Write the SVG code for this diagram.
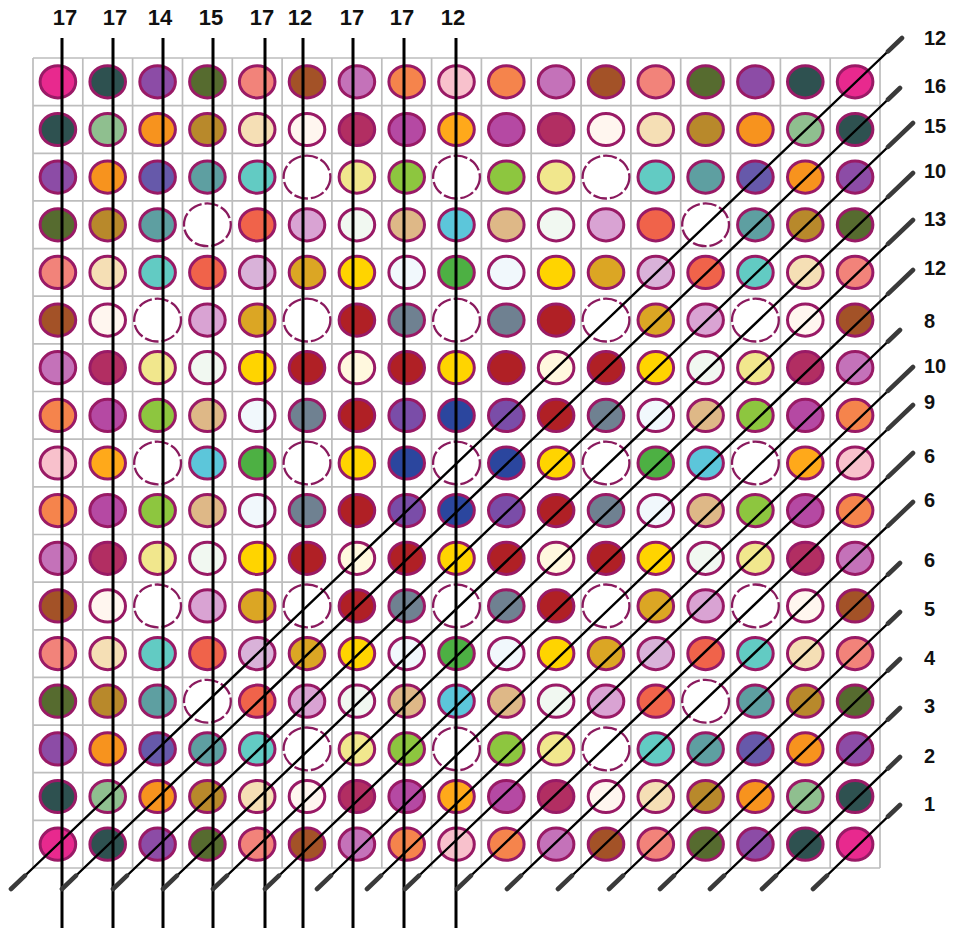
<svg xmlns="http://www.w3.org/2000/svg" xmlns:xlink="http://www.w3.org/1999/xlink" width="955" height="928" viewBox="0 0 955 928">
<style>
.grid{fill:none;stroke:#BDBDBD;stroke-width:1.7}
.r use{stroke:#991A66;stroke-width:3}
.r use.W{fill:#fff;stroke:#8A1A5E;stroke-width:2.3;stroke-dasharray:14 3}
.pk{fill:#E8298E}.ds{fill:#2E5150}.pu{fill:#8C4CA6}.ol{fill:#566B2F}.sa{fill:#F2837A}.si{fill:#A35227}
.or{fill:#C472B9}.co{fill:#F5844C}.lp{fill:#F8C1CC}.lg{fill:#8FBF8F}.og{fill:#F7931E}.dg{fill:#B8892B}
.wh{fill:#F5DFB5}.ss{fill:#FFF6EF}.cr{fill:#B22E62}.mg{fill:#B549A3}.o2{fill:#FFA91A}.sb{fill:#6659AA}
.cb{fill:#5E9FA1}.tq{fill:#62CBC3}.kh{fill:#F1E78D}.yg{fill:#8DC63F}.tm{fill:#F0634A}.pl{fill:#D9A3D3}
.hd{fill:#F1F8F1}.bw{fill:#DEB887}.sk{fill:#5CC6DA}.th{fill:#D9B2D9}.gr{fill:#DBA624}.gd{fill:#FFD400}
.ab{fill:#F1F8FC}.gn{fill:#4DB043}.fb{fill:#B02025}.sg{fill:#6F8191}.cs{fill:#FFF8DE}.rp{fill:#7A4DA8}.db{fill:#2B469E}
.ln{stroke:#000;stroke-width:2.4;fill:none}
.vl{stroke:#000;stroke-width:3;fill:none}
.cap{stroke:#3A3A3A;stroke-width:4.6;stroke-linecap:round;fill:none}
.lbl{font-family:"Liberation Sans",Arial,sans-serif;font-weight:bold;fill:#111}
.top{font-size:22px;text-anchor:middle}
.rt{font-size:20px}
</style>
<defs>
<ellipse id="d" rx="17.8" ry="16.1"/>
<ellipse id="w" rx="23.4" ry="21.4"/>
</defs>
<rect width="955" height="928" fill="#fff"/>
<g id="grid">
<path class="grid" d="M33 58V868M82.8 58V868M132.6 58V868M182.5 58V868M232.3 58V868M282.1 58V868M331.9 58V868M381.8 58V868M431.6 58V868M481.4 58V868M531.2 58V868M581.1 58V868M630.9 58V868M680.7 58V868M730.5 58V868M780.4 58V868M830.2 58V868M880 58V868M33 58H880M33 105.6H880M33 153.3H880M33 200.9H880M33 248.6H880M33 296.2H880M33 343.9H880M33 391.5H880M33 439.2H880M33 486.8H880M33 534.5H880M33 582.1H880M33 629.8H880M33 677.4H880M33 725.1H880M33 772.7H880M33 820.4H880M33 868H880"/>
</g>
<g id="cells" class="r">
<g id="row0" transform="translate(0,81.8)"><use href="#d" x="57.9" class="pk"/><use href="#d" x="107.7" class="ds"/><use href="#d" x="157.6" class="pu"/><use href="#d" x="207.4" class="ol"/><use href="#d" x="257.2" class="sa"/><use href="#d" x="307" class="si"/><use href="#d" x="356.9" class="or"/><use href="#d" x="406.7" class="co"/><use href="#d" x="456.5" class="lp"/><use href="#d" x="506.3" class="co"/><use href="#d" x="556.1" class="or"/><use href="#d" x="606" class="si"/><use href="#d" x="655.8" class="sa"/><use href="#d" x="705.6" class="ol"/><use href="#d" x="755.4" class="pu"/><use href="#d" x="805.3" class="ds"/><use href="#d" x="855.1" class="pk"/></g>
<g id="row1" transform="translate(0,129.5)"><use href="#d" x="57.9" class="ds"/><use href="#d" x="107.7" class="lg"/><use href="#d" x="157.6" class="og"/><use href="#d" x="207.4" class="dg"/><use href="#d" x="257.2" class="wh"/><use href="#d" x="307" class="ss"/><use href="#d" x="356.9" class="cr"/><use href="#d" x="406.7" class="mg"/><use href="#d" x="456.5" class="o2"/><use href="#d" x="506.3" class="mg"/><use href="#d" x="556.1" class="cr"/><use href="#d" x="606" class="ss"/><use href="#d" x="655.8" class="wh"/><use href="#d" x="705.6" class="dg"/><use href="#d" x="755.4" class="og"/><use href="#d" x="805.3" class="lg"/><use href="#d" x="855.1" class="ds"/></g>
<g id="row2" transform="translate(0,177.1)"><use href="#d" x="57.9" class="pu"/><use href="#d" x="107.7" class="og"/><use href="#d" x="157.6" class="sb"/><use href="#d" x="207.4" class="cb"/><use href="#d" x="257.2" class="tq"/><use href="#w" x="307" class="W"/><use href="#d" x="356.9" class="kh"/><use href="#d" x="406.7" class="yg"/><use href="#w" x="456.5" class="W"/><use href="#d" x="506.3" class="yg"/><use href="#d" x="556.1" class="kh"/><use href="#w" x="606" class="W"/><use href="#d" x="655.8" class="tq"/><use href="#d" x="705.6" class="cb"/><use href="#d" x="755.4" class="sb"/><use href="#d" x="805.3" class="og"/><use href="#d" x="855.1" class="pu"/></g>
<g id="row3" transform="translate(0,224.8)"><use href="#d" x="57.9" class="ol"/><use href="#d" x="107.7" class="dg"/><use href="#d" x="157.6" class="cb"/><use href="#w" x="207.4" class="W"/><use href="#d" x="257.2" class="tm"/><use href="#d" x="307" class="pl"/><use href="#d" x="356.9" class="hd"/><use href="#d" x="406.7" class="bw"/><use href="#d" x="456.5" class="sk"/><use href="#d" x="506.3" class="bw"/><use href="#d" x="556.1" class="hd"/><use href="#d" x="606" class="pl"/><use href="#d" x="655.8" class="tm"/><use href="#w" x="705.6" class="W"/><use href="#d" x="755.4" class="cb"/><use href="#d" x="805.3" class="dg"/><use href="#d" x="855.1" class="ol"/></g>
<g id="row4" transform="translate(0,272.4)"><use href="#d" x="57.9" class="sa"/><use href="#d" x="107.7" class="wh"/><use href="#d" x="157.6" class="tq"/><use href="#d" x="207.4" class="tm"/><use href="#d" x="257.2" class="th"/><use href="#d" x="307" class="gr"/><use href="#d" x="356.9" class="gd"/><use href="#d" x="406.7" class="ab"/><use href="#d" x="456.5" class="gn"/><use href="#d" x="506.3" class="ab"/><use href="#d" x="556.1" class="gd"/><use href="#d" x="606" class="gr"/><use href="#d" x="655.8" class="th"/><use href="#d" x="705.6" class="tm"/><use href="#d" x="755.4" class="tq"/><use href="#d" x="805.3" class="wh"/><use href="#d" x="855.1" class="sa"/></g>
<g id="row5" transform="translate(0,320.1)"><use href="#d" x="57.9" class="si"/><use href="#d" x="107.7" class="ss"/><use href="#w" x="157.6" class="W"/><use href="#d" x="207.4" class="pl"/><use href="#d" x="257.2" class="gr"/><use href="#w" x="307" class="W"/><use href="#d" x="356.9" class="fb"/><use href="#d" x="406.7" class="sg"/><use href="#w" x="456.5" class="W"/><use href="#d" x="506.3" class="sg"/><use href="#d" x="556.1" class="fb"/><use href="#w" x="606" class="W"/><use href="#d" x="655.8" class="gr"/><use href="#d" x="705.6" class="pl"/><use href="#w" x="755.4" class="W"/><use href="#d" x="805.3" class="ss"/><use href="#d" x="855.1" class="si"/></g>
<g id="row6" transform="translate(0,367.7)"><use href="#d" x="57.9" class="or"/><use href="#d" x="107.7" class="cr"/><use href="#d" x="157.6" class="kh"/><use href="#d" x="207.4" class="hd"/><use href="#d" x="257.2" class="gd"/><use href="#d" x="307" class="fb"/><use href="#d" x="356.9" class="cs"/><use href="#d" x="406.7" class="fb"/><use href="#d" x="456.5" class="gd"/><use href="#d" x="506.3" class="fb"/><use href="#d" x="556.1" class="cs"/><use href="#d" x="606" class="fb"/><use href="#d" x="655.8" class="gd"/><use href="#d" x="705.6" class="hd"/><use href="#d" x="755.4" class="kh"/><use href="#d" x="805.3" class="cr"/><use href="#d" x="855.1" class="or"/></g>
<g id="row7" transform="translate(0,415.4)"><use href="#d" x="57.9" class="co"/><use href="#d" x="107.7" class="mg"/><use href="#d" x="157.6" class="yg"/><use href="#d" x="207.4" class="bw"/><use href="#d" x="257.2" class="ab"/><use href="#d" x="307" class="sg"/><use href="#d" x="356.9" class="fb"/><use href="#d" x="406.7" class="rp"/><use href="#d" x="456.5" class="db"/><use href="#d" x="506.3" class="rp"/><use href="#d" x="556.1" class="fb"/><use href="#d" x="606" class="sg"/><use href="#d" x="655.8" class="ab"/><use href="#d" x="705.6" class="bw"/><use href="#d" x="755.4" class="yg"/><use href="#d" x="805.3" class="mg"/><use href="#d" x="855.1" class="co"/></g>
<g id="row8" transform="translate(0,463)"><use href="#d" x="57.9" class="lp"/><use href="#d" x="107.7" class="o2"/><use href="#w" x="157.6" class="W"/><use href="#d" x="207.4" class="sk"/><use href="#d" x="257.2" class="gn"/><use href="#w" x="307" class="W"/><use href="#d" x="356.9" class="gd"/><use href="#d" x="406.7" class="db"/><use href="#w" x="456.5" class="W"/><use href="#d" x="506.3" class="db"/><use href="#d" x="556.1" class="gd"/><use href="#w" x="606" class="W"/><use href="#d" x="655.8" class="gn"/><use href="#d" x="705.6" class="sk"/><use href="#w" x="755.4" class="W"/><use href="#d" x="805.3" class="o2"/><use href="#d" x="855.1" class="lp"/></g>
<g id="row9" transform="translate(0,510.6)"><use href="#d" x="57.9" class="co"/><use href="#d" x="107.7" class="mg"/><use href="#d" x="157.6" class="yg"/><use href="#d" x="207.4" class="bw"/><use href="#d" x="257.2" class="ab"/><use href="#d" x="307" class="sg"/><use href="#d" x="356.9" class="fb"/><use href="#d" x="406.7" class="rp"/><use href="#d" x="456.5" class="db"/><use href="#d" x="506.3" class="rp"/><use href="#d" x="556.1" class="fb"/><use href="#d" x="606" class="sg"/><use href="#d" x="655.8" class="ab"/><use href="#d" x="705.6" class="bw"/><use href="#d" x="755.4" class="yg"/><use href="#d" x="805.3" class="mg"/><use href="#d" x="855.1" class="co"/></g>
<g id="row10" transform="translate(0,558.3)"><use href="#d" x="57.9" class="or"/><use href="#d" x="107.7" class="cr"/><use href="#d" x="157.6" class="kh"/><use href="#d" x="207.4" class="hd"/><use href="#d" x="257.2" class="gd"/><use href="#d" x="307" class="fb"/><use href="#d" x="356.9" class="cs"/><use href="#d" x="406.7" class="fb"/><use href="#d" x="456.5" class="gd"/><use href="#d" x="506.3" class="fb"/><use href="#d" x="556.1" class="cs"/><use href="#d" x="606" class="fb"/><use href="#d" x="655.8" class="gd"/><use href="#d" x="705.6" class="hd"/><use href="#d" x="755.4" class="kh"/><use href="#d" x="805.3" class="cr"/><use href="#d" x="855.1" class="or"/></g>
<g id="row11" transform="translate(0,605.9)"><use href="#d" x="57.9" class="si"/><use href="#d" x="107.7" class="ss"/><use href="#w" x="157.6" class="W"/><use href="#d" x="207.4" class="pl"/><use href="#d" x="257.2" class="gr"/><use href="#w" x="307" class="W"/><use href="#d" x="356.9" class="fb"/><use href="#d" x="406.7" class="sg"/><use href="#w" x="456.5" class="W"/><use href="#d" x="506.3" class="sg"/><use href="#d" x="556.1" class="fb"/><use href="#w" x="606" class="W"/><use href="#d" x="655.8" class="gr"/><use href="#d" x="705.6" class="pl"/><use href="#w" x="755.4" class="W"/><use href="#d" x="805.3" class="ss"/><use href="#d" x="855.1" class="si"/></g>
<g id="row12" transform="translate(0,653.6)"><use href="#d" x="57.9" class="sa"/><use href="#d" x="107.7" class="wh"/><use href="#d" x="157.6" class="tq"/><use href="#d" x="207.4" class="tm"/><use href="#d" x="257.2" class="th"/><use href="#d" x="307" class="gr"/><use href="#d" x="356.9" class="gd"/><use href="#d" x="406.7" class="ab"/><use href="#d" x="456.5" class="gn"/><use href="#d" x="506.3" class="ab"/><use href="#d" x="556.1" class="gd"/><use href="#d" x="606" class="gr"/><use href="#d" x="655.8" class="th"/><use href="#d" x="705.6" class="tm"/><use href="#d" x="755.4" class="tq"/><use href="#d" x="805.3" class="wh"/><use href="#d" x="855.1" class="sa"/></g>
<g id="row13" transform="translate(0,701.2)"><use href="#d" x="57.9" class="ol"/><use href="#d" x="107.7" class="dg"/><use href="#d" x="157.6" class="cb"/><use href="#w" x="207.4" class="W"/><use href="#d" x="257.2" class="tm"/><use href="#d" x="307" class="pl"/><use href="#d" x="356.9" class="hd"/><use href="#d" x="406.7" class="bw"/><use href="#d" x="456.5" class="sk"/><use href="#d" x="506.3" class="bw"/><use href="#d" x="556.1" class="hd"/><use href="#d" x="606" class="pl"/><use href="#d" x="655.8" class="tm"/><use href="#w" x="705.6" class="W"/><use href="#d" x="755.4" class="cb"/><use href="#d" x="805.3" class="dg"/><use href="#d" x="855.1" class="ol"/></g>
<g id="row14" transform="translate(0,748.9)"><use href="#d" x="57.9" class="pu"/><use href="#d" x="107.7" class="og"/><use href="#d" x="157.6" class="sb"/><use href="#d" x="207.4" class="cb"/><use href="#d" x="257.2" class="tq"/><use href="#w" x="307" class="W"/><use href="#d" x="356.9" class="kh"/><use href="#d" x="406.7" class="yg"/><use href="#w" x="456.5" class="W"/><use href="#d" x="506.3" class="yg"/><use href="#d" x="556.1" class="kh"/><use href="#w" x="606" class="W"/><use href="#d" x="655.8" class="tq"/><use href="#d" x="705.6" class="cb"/><use href="#d" x="755.4" class="sb"/><use href="#d" x="805.3" class="og"/><use href="#d" x="855.1" class="pu"/></g>
<g id="row15" transform="translate(0,796.5)"><use href="#d" x="57.9" class="ds"/><use href="#d" x="107.7" class="lg"/><use href="#d" x="157.6" class="og"/><use href="#d" x="207.4" class="dg"/><use href="#d" x="257.2" class="wh"/><use href="#d" x="307" class="ss"/><use href="#d" x="356.9" class="cr"/><use href="#d" x="406.7" class="mg"/><use href="#d" x="456.5" class="o2"/><use href="#d" x="506.3" class="mg"/><use href="#d" x="556.1" class="cr"/><use href="#d" x="606" class="ss"/><use href="#d" x="655.8" class="wh"/><use href="#d" x="705.6" class="dg"/><use href="#d" x="755.4" class="og"/><use href="#d" x="805.3" class="lg"/><use href="#d" x="855.1" class="ds"/></g>
<g id="row16" transform="translate(0,844.2)"><use href="#d" x="57.9" class="pk"/><use href="#d" x="107.7" class="ds"/><use href="#d" x="157.6" class="pu"/><use href="#d" x="207.4" class="ol"/><use href="#d" x="257.2" class="sa"/><use href="#d" x="307" class="si"/><use href="#d" x="356.9" class="or"/><use href="#d" x="406.7" class="co"/><use href="#d" x="456.5" class="lp"/><use href="#d" x="506.3" class="co"/><use href="#d" x="556.1" class="or"/><use href="#d" x="606" class="si"/><use href="#d" x="655.8" class="sa"/><use href="#d" x="705.6" class="ol"/><use href="#d" x="755.4" class="pu"/><use href="#d" x="805.3" class="ds"/><use href="#d" x="855.1" class="pk"/></g>
</g>
<g id="connectors">
<path class="vl" d="M62 38V928M113 38V928M163 38V928M213 38V928M265 38V928M303 38V928M353 38V928M404 38V928M456 38V928"/>
<path class="ln" d="M11 889L902 38M62 889L900 88M113 889L913 123M163 889L913 173M213 889L913 220M265 889L913 270M317 889L900 330M367 889L913 367M405 889L913 405M457 889L913 453M507 889L913 502M558 889L900 563M609 889L900 612M660 889L900 659M710 889L900 708M762 889L900 757M813 889L900 805"/>
<path class="cap" d="M11 889L25 875.6M62 889L76 875.6M113 889L127 875.6M163 889L177 875.6M213 889L227 875.6M265 889L279 875.6M317 889L331 875.6M367 889L381 875.6M405 889L419 875.6M457 889L471 875.6M507 889L521 875.6M558 889L572 875.6M609 889L623 875.6M660 889L674 875.6M710 889L724 875.6M762 889L776 875.6M813 889L827 875.6"/>
<path class="cap" d="M888 51.4L902 38M888 99.5L900 88M888 146.9L913 123M888 196.9L913 173M888 243.9L913 220M888 293.9L913 270M888 341.5L900 330M888 390.9L913 367M888 428.9L913 405M888 476.9L913 453M888 525.9L913 502M888 574.5L900 563M888 623.5L900 612M888 670.5L900 659M888 719.5L900 708M888 768.5L900 757M888 816.5L900 805"/>
</g>
<g id="labels" class="lbl">
<text class="top" x="65" y="25">17</text>
<text class="top" x="115" y="25">17</text>
<text class="top" x="160" y="25">14</text>
<text class="top" x="211" y="25">15</text>
<text class="top" x="262" y="25">17</text>
<text class="top" x="300" y="25">12</text>
<text class="top" x="352" y="25">17</text>
<text class="top" x="402" y="25">17</text>
<text class="top" x="453" y="25">12</text>
<text class="rt" x="924" y="45">12</text>
<text class="rt" x="924" y="93">16</text>
<text class="rt" x="924" y="133">15</text>
<text class="rt" x="924" y="178">10</text>
<text class="rt" x="924" y="226">13</text>
<text class="rt" x="924" y="275">12</text>
<text class="rt" x="924" y="328">8</text>
<text class="rt" x="924" y="373">10</text>
<text class="rt" x="924" y="409">9</text>
<text class="rt" x="924" y="463">6</text>
<text class="rt" x="924" y="507">6</text>
<text class="rt" x="924" y="567">6</text>
<text class="rt" x="924" y="616">5</text>
<text class="rt" x="924" y="665">4</text>
<text class="rt" x="924" y="713">3</text>
<text class="rt" x="924" y="763">2</text>
<text class="rt" x="924" y="811">1</text>
</g>
</svg>
